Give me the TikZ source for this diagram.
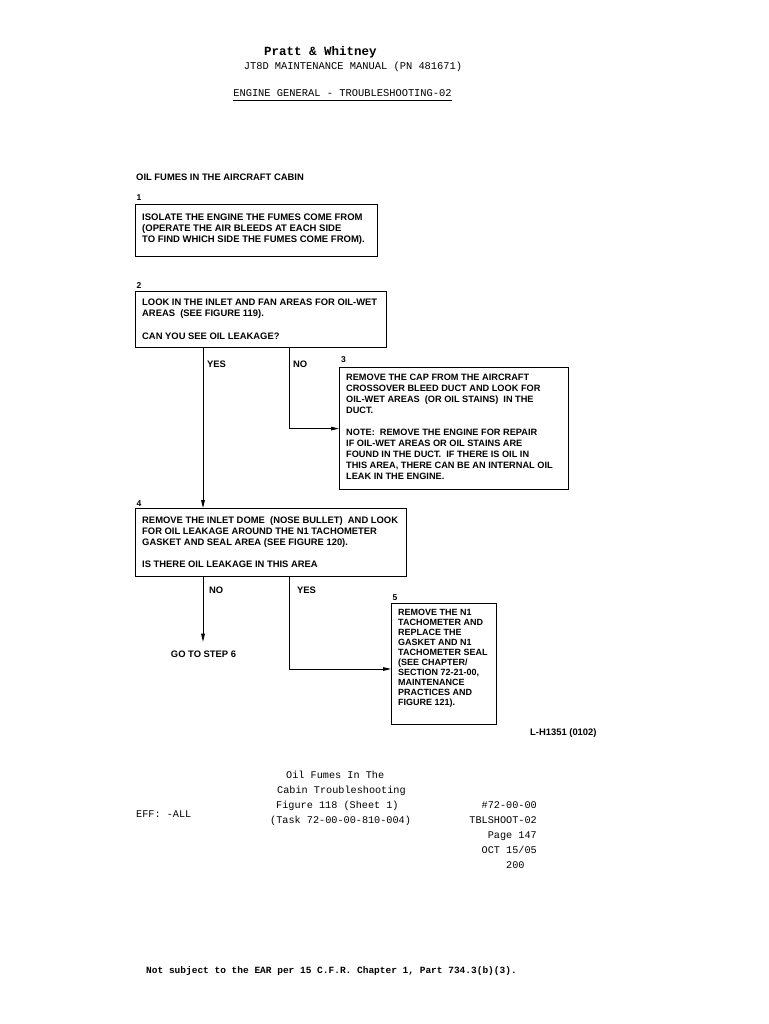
\documentclass[tikz,border=0pt]{standalone}
\usepackage{fontspec}
\setmainfont{Liberation Sans}
\newfontfamily\monofont{Liberation Mono}
\usetikzlibrary{arrows.meta}
\begin{document}
\begin{tikzpicture}[x=1pt,y=-1pt,
  box/.style={draw=black,line width=1.2pt,anchor=north west,inner sep=0pt},
  txt/.style={anchor=north west,inner sep=0pt,align=left,font=\bfseries\fontsize{9.4}{11.2}\selectfont},
  lbl/.style={inner sep=0pt,font=\bfseries\fontsize{9.4}{11}\selectfont},
  num/.style={inner sep=0pt,anchor=base west,font=\bfseries\fontsize{8.5}{10}\selectfont},
  mono/.style={inner sep=0pt,font=\monofont\fontsize{10.2}{12}\selectfont},
  conn/.style={draw=black,line width=0.9pt},
  arr/.style={-{Triangle[length=8pt,width=3.6pt]}}
]
\useasboundingbox[fill=white] (0,0) rectangle (768,1024);

% header
\node[mono,anchor=base,font=\monofont\bfseries\fontsize{12.5}{14}\selectfont] (pw) at (320.5,56) {Pratt \& Whitney};
\node[mono,anchor=base,font=\monofont\fontsize{10.4}{12}\selectfont] (man) at (353,70) {JT8D MAINTENANCE MANUAL (PN 481671)};
\node[mono,anchor=base,font=\monofont\fontsize{10.4}{12}\selectfont] (eng) at (342.5,97) {ENGINE GENERAL - TROUBLESHOOTING-02};
\draw[line width=0.8pt] ([yshift=-3pt]eng.base west) -- ([yshift=-3pt]eng.base east);

% title
\node[lbl,anchor=base west] (title) at (136,180.5) {OIL FUMES IN THE AIRCRAFT CABIN};

% box 1
\node[num] (n1) at (136.5,200.5) {1};
\node[box,minimum width=242pt,minimum height=52pt] (b1) at (135,204) {};
\node[txt,font=\bfseries\fontsize{9.5}{11.2}\selectfont] (t1) at (142,213.2) {ISOLATE THE ENGINE THE FUMES COME FROM\\(OPERATE THE AIR BLEEDS AT EACH SIDE\\TO FIND WHICH SIDE THE FUMES COME FROM).};

% box 2
\node[num] (n2) at (136.5,288) {2};
\node[box,minimum width=251pt,minimum height=56pt] (b2) at (135,291) {};
\node[txt] (t2) at (142,298.5) {LOOK IN THE INLET AND FAN AREAS FOR OIL-WET\\AREAS\ \ (SEE FIGURE 119).\\[11.5pt]CAN YOU SEE OIL LEAKAGE?};

% box 3
\node[num] (n3) at (341,362) {3};
\node[box,minimum width=229pt,minimum height=122pt] (b3) at (339,367) {};
\node[txt,font=\bfseries\fontsize{9.2}{11}\selectfont] (t3) at (346,373.6) {REMOVE THE CAP FROM THE AIRCRAFT\\CROSSOVER BLEED DUCT AND LOOK FOR\\OIL-WET AREAS\ \ (OR OIL STAINS)\ \ IN THE\\DUCT.\\[11pt]NOTE:\ \ REMOVE THE ENGINE FOR REPAIR\\IF OIL-WET AREAS OR OIL STAINS ARE\\FOUND IN THE DUCT.\ \ IF THERE IS OIL IN\\THIS AREA, THERE CAN BE AN INTERNAL OIL\\LEAK IN THE ENGINE.};

% box 4
\node[num] (n4) at (136.5,506) {4};
\node[box,minimum width=271pt,minimum height=68pt] (b4) at (135,508) {};
\node[txt] (t4) at (142,516.5) {REMOVE THE INLET DOME\ \ (NOSE BULLET)\ \ AND LOOK\\FOR OIL LEAKAGE AROUND THE N1 TACHOMETER\\GASKET AND SEAL AREA (SEE FIGURE 120).\\[10pt]IS THERE OIL LEAKAGE IN THIS AREA};

% box 5
\node[num] (n5) at (392.5,600) {5};
\node[box,minimum width=105pt,minimum height=121pt] (b5) at (391,603) {};
\node[txt,font=\bfseries\fontsize{9}{10}\selectfont] (t5) at (398,608.7) {REMOVE THE N1\\TACHOMETER AND\\REPLACE THE\\GASKET AND N1\\TACHOMETER SEAL\\(SEE CHAPTER/\\SECTION 72-21-00,\\MAINTENANCE\\PRACTICES AND\\FIGURE 121).};

% labels
\node[lbl,anchor=base west] (yes1) at (207,367.5) {YES};
\node[lbl,anchor=base west] (no1) at (293,367.5) {NO};
\node[lbl,anchor=base west] (no2) at (209,593.5) {NO};
\node[lbl,anchor=base west] (yes2) at (297,593) {YES};
\node[lbl,anchor=base] (go) at (203.5,657.5) {GO TO STEP 6};
\node[lbl,anchor=base west] (ref) at (530,735) {L-H1351 (0102)};

% connectors
\coordinate (cx1) at (203,0);
\coordinate (cx2) at (289,0);
\coordinate (cy5) at (0,669);
\draw[conn,arr] (b2.south -| cx1) -- (b4.north -| cx1);
\draw[conn,arr] (b2.south -| cx2) |- (b3.west);
\draw[conn,arr] (b4.south -| cx1) -- ([yshift=9pt]go.north -| cx1);
\draw[conn,arr] (b4.south -| cx2) |- (b5.west |- cy5);

% footer
\node[mono,anchor=base west] (f1) at (286,778.5) {Oil Fumes In The};
\node[mono,anchor=base west] (f2) at (277,793.5) {Cabin Troubleshooting};
\node[mono,anchor=base west] (f3) at (276,808.5) {Figure 118 (Sheet 1)};
\node[mono,anchor=base west] (f4) at (270,823.5) {(Task 72-00-00-810-004)};
\node[mono,anchor=base east] (r1) at (537,808.5) {\#72-00-00};
\node[mono,anchor=base east] (r2) at (537,823.5) {TBLSHOOT-02};
\node[mono,anchor=base east] (r3) at (537,838.5) {Page 147};
\node[mono,anchor=base east] (r4) at (537,853.5) {OCT 15/05};
\node[mono,anchor=base west] (r5) at (506,868.5) {200};
\node[mono,anchor=base west] (eff) at (136,817.5) {EFF: -ALL};
\node[mono,anchor=base west,font=\monofont\bfseries\fontsize{9.5}{11}\selectfont] (ear) at (146,973.5) {Not subject to the EAR per 15 C.F.R. Chapter 1, Part 734.3(b)(3).};
\end{tikzpicture}
\end{document}
